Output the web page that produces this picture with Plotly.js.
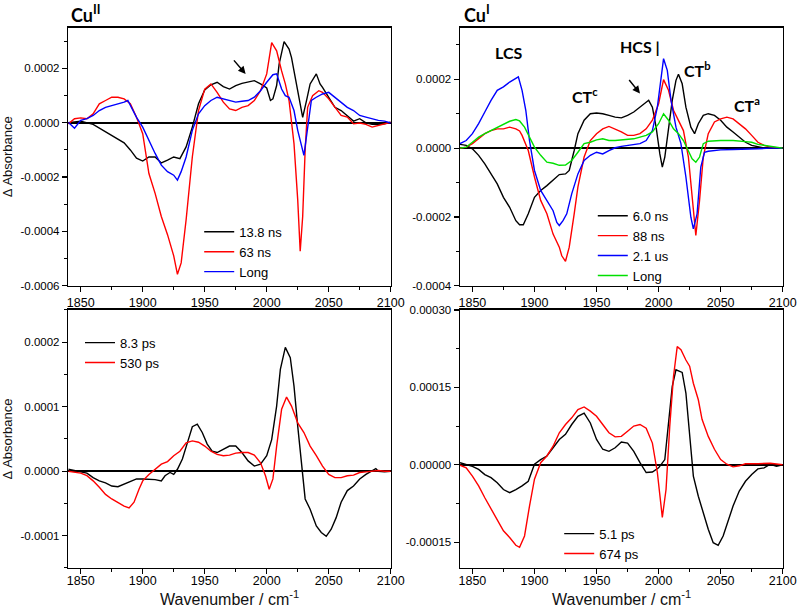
<!DOCTYPE html>
<html>
<head>
<meta charset="utf-8">
<script src="https://cdn.plot.ly/plotly-3.0.1.min.js"></script>
<style>
  html, body { margin: 0; padding: 0; background: #ffffff; }
  #plot { width: 800px; height: 616px; }
</style>
</head>
<body>
<div id="plot"></div>
<script>
// Values are in micro-absorbance units (1e-6); tick labels show the absorbance.

// Cu(II), nanosecond spectra
const tlBlackX = [1840,1850,1860,1865,1870,1875,1880,1885,1890,1895,1900,1905,1910,1915,1920,1925,1930,1935,1940,1945,1950,1955,1960,1965,1970,1975,1980,1985,1990,1995,2000,2003,2005,2008,2010,2014,2018,2020,2024,2027,2029,2032,2035,2040,2043,2045,2050,2055,2060,2065,2070,2075,2080,2085,2090,2095,2100];
const tlBlackY = [0,6,-6,-20,-34,-46,-60,-74,-100,-130,-141,-126,-126,-148,-138,-126,-132,-89,-16,70,121,140,149,133,124,137,145,149,155,143,128,82,88,137,216,299,271,240,143,70,20,80,143,180,143,130,94,57,45,27,6,15,0,-6,-7,-4,2];
const tlRedX = [1840,1845,1850,1855,1860,1865,1870,1875,1880,1885,1890,1895,1900,1905,1910,1915,1920,1925,1928,1931,1935,1940,1945,1950,1955,1960,1965,1970,1975,1980,1985,1990,1995,2000,2004,2008,2012,2015,2018,2020,2022,2025,2027,2029,2031,2033,2037,2042,2045,2050,2055,2060,2065,2070,2075,2080,2085,2090,2095,2100];
const tlRedY = [-4,15,18,15,33,70,82,94,94,88,70,20,-40,-187,-260,-345,-412,-490,-558,-516,-357,-126,45,124,143,112,76,51,45,57,63,82,118,180,295,265,191,143,82,9,-77,-284,-473,-345,-100,57,100,118,112,88,57,27,21,-4,-1,-6,-16,-10,-6,2];
const tlBlueX = [1840,1845,1850,1855,1860,1865,1870,1875,1880,1885,1888,1890,1895,1900,1905,1910,1915,1920,1925,1928,1931,1935,1940,1945,1950,1955,1960,1965,1970,1975,1980,1985,1990,1995,2000,2005,2008,2012,2015,2018,2022,2025,2030,2033,2036,2040,2045,2050,2055,2060,2065,2070,2075,2080,2085,2090,2095,2100];
const tlBlueY = [2,-20,9,15,27,45,57,63,70,76,82,63,20,-16,-65,-113,-156,-180,-193,-211,-180,-126,-28,33,63,82,94,88,82,76,79,82,94,118,149,177,180,124,100,94,45,-28,-120,-16,82,94,106,112,94,76,57,45,27,21,15,9,6,-1];

// Cu(I), nanosecond to microsecond spectra
const trBlackX = [1840,1845,1850,1855,1860,1865,1870,1875,1880,1885,1888,1891,1895,1900,1905,1910,1915,1920,1925,1928,1932,1935,1940,1945,1950,1955,1960,1965,1970,1975,1980,1985,1990,1992,1995,1998,2001,2003,2005,2008,2011,2014,2016,2019,2022,2026,2029,2032,2036,2040,2045,2050,2055,2060,2065,2070,2075,2080,2085,2090,2100];
const trBlackY = [11,8,-2,-21,-46,-75,-104,-143,-172,-211,-223,-223,-191,-143,-123,-109,-94,-77,-75,-65,-7,42,81,100,102,100,95,90,88,95,105,119,134,139,119,61,-17,-55,-26,61,139,197,215,187,119,61,42,71,95,100,95,81,61,47,32,17,8,3,0,1,0];
const trRedX = [1840,1845,1850,1855,1860,1865,1870,1875,1880,1885,1888,1890,1895,1900,1905,1910,1915,1920,1922,1925,1928,1932,1935,1940,1945,1950,1955,1960,1965,1970,1975,1980,1985,1990,1995,2000,2004,2008,2012,2016,2020,2024,2027,2030,2033,2036,2040,2045,2050,2055,2060,2065,2070,2075,2080,2085,2090,2100];
const trRedY = [0,3,13,27,42,51,56,56,61,56,50,37,-7,-84,-152,-191,-250,-288,-313,-329,-288,-191,-113,-26,22,42,56,63,56,47,37,37,42,56,81,129,199,168,110,81,51,-26,-152,-254,-152,-26,42,76,85,90,85,71,56,37,17,8,3,0];
const trBlueX = [1840,1845,1850,1855,1860,1865,1870,1875,1880,1885,1887,1890,1893,1896,1900,1905,1910,1915,1918,1920,1923,1926,1930,1935,1940,1945,1950,1955,1960,1965,1970,1975,1980,1985,1990,1995,1999,2002,2004,2007,2010,2014,2018,2022,2026,2028,2031,2034,2037,2040,2050,2060,2070,2080,2090,2100];
const trBlueY = [13,22,42,71,105,139,168,178,192,202,207,168,110,22,-65,-123,-152,-182,-216,-225,-211,-191,-133,-75,-36,-21,-12,-17,-7,1,5,8,11,13,22,51,119,207,260,226,139,61,13,-84,-201,-235,-191,-55,-12,-9,-5,-4,-4,-2,0,0];
const trGreenX = [1840,1845,1850,1855,1860,1865,1870,1875,1880,1885,1888,1892,1896,1900,1905,1910,1915,1920,1925,1930,1935,1940,1945,1950,1955,1960,1965,1970,1975,1980,1985,1990,1995,2000,2004,2008,2012,2016,2020,2024,2027,2030,2033,2036,2040,2050,2060,2070,2075,2080,2085,2090,2095,2100];
const trGreenY = [0,3,17,32,42,51,61,69,78,83,79,61,32,3,-21,-41,-44,-50,-49,-36,-12,13,17,24,27,22,22,24,24,27,32,37,47,71,100,81,56,42,22,-7,-31,-41,-26,13,20,22,22,19,17,11,8,5,3,0];

// Cu(II), picosecond spectra
const blBlackX = [1840,1845,1850,1855,1860,1865,1870,1875,1880,1885,1890,1895,1900,1905,1910,1915,1918,1922,1925,1928,1932,1936,1940,1944,1948,1952,1956,1960,1965,1970,1975,1980,1985,1990,1995,2000,2004,2008,2011,2015,2019,2022,2025,2028,2031,2035,2040,2044,2048,2052,2056,2060,2065,2070,2075,2080,2085,2088,2090,2095,2100];
const blBlackY = [3,1,0,-3,-10,-15,-18,-23,-24,-20,-15,-12,-12,-12,-13,-15,-7,-2,-5,3,19,44,69,73,60,42,31,29,34,39,39,29,16,8,11,24,49,101,158,192,176,132,70,8,-43,-59,-85,-95,-101,-90,-72,-48,-30,-23,-12,-5,1,4,0,-1,0];
const blRedX = [1840,1845,1850,1855,1860,1865,1870,1875,1880,1885,1889,1893,1897,1900,1905,1910,1915,1920,1925,1930,1935,1940,1945,1950,1955,1960,1965,1970,1975,1980,1985,1990,1995,1999,2002,2005,2008,2012,2016,2020,2025,2030,2035,2040,2045,2050,2055,2060,2065,2070,2075,2080,2085,2090,2095,2100];
const blRedY = [0,-1,-3,-7,-15,-25,-36,-43,-49,-54,-57,-48,-28,-15,-5,3,11,15,24,31,44,47,45,39,31,26,24,25,28,29,29,25,13,-7,-28,-12,39,96,115,101,75,60,39,24,8,-5,-10,-10,-7,-6,-2,-1,0,1,0,0];

// Cu(I), picosecond spectra
const brBlackX = [1840,1845,1850,1855,1860,1865,1870,1875,1880,1885,1890,1895,1900,1905,1910,1915,1920,1925,1930,1935,1940,1945,1950,1955,1960,1965,1970,1975,1980,1985,1990,1995,2000,2005,2008,2011,2014,2019,2022,2025,2028,2032,2036,2040,2044,2048,2052,2056,2060,2065,2070,2075,2080,2085,2090,2095,2100];
const brBlackY = [4,1,-3,-9,-19,-25,-35,-48,-54,-48,-41,-32,1,10,17,33,49,59,78,94,100,81,49,30,26,33,44,42,26,4,-15,-14,-6,10,81,152,184,179,139,62,-22,-61,-93,-125,-151,-156,-138,-109,-80,-51,-32,-19,-8,-6,1,-3,0];
const brRedX = [1840,1845,1850,1855,1860,1865,1870,1875,1880,1885,1888,1892,1896,1900,1905,1910,1915,1920,1925,1930,1935,1940,1945,1950,1955,1960,1965,1970,1975,1980,1985,1990,1995,1999,2003,2006,2009,2012,2015,2018,2022,2025,2028,2032,2035,2040,2045,2050,2055,2060,2065,2070,2080,2090,2100];
const brRedY = [-1,-6,-22,-41,-64,-86,-109,-128,-141,-156,-160,-138,-80,-28,4,17,36,62,78,91,107,112,104,94,78,62,54,55,65,75,78,71,42,-15,-102,-48,75,171,229,223,203,191,158,126,88,55,30,10,1,-4,-2,2,2,3,0];

const legendNames = {
    tl: ['13.8 ns', '63 ns', 'Long'],
    tr: ['6.0 ns', '88 ns', '2.1 us', 'Long'],
    bl: ['8.3 ps', '530 ps'],
    br: ['5.1 ps', '674 ps']
};

const bandLabels = ['LCS', 'CT<sup>c</sup>', 'HCS |', 'CT<sup>b</sup>', 'CT<sup>a</sup>'];
const bandLabelX = [1879, 1940.5, 1985, 2031, 2071];
const bandLabelY = [278, 152, 296, 229, 128];

const BLACK = '#000000';
const RED = '#ff0000';
const BLUE = '#0000ff';
const GREEN = '#00e000';
const AXIS_FONT = 'Liberation Sans, Arial, sans-serif';
const BOLD_FONT = 'Lato, Open Sans, sans-serif';

// multiples of step that fall inside [lo, hi]
function steps(lo, hi, step) {
    const out = [];
    for (let k = Math.ceil(lo / step - 1e-9); k * step <= hi + 1e-9; k++) out.push(k * step);
    return out;
}

function line(x, y, color, name, xa, ya, legend) {
    return {
        x: x, y: y, name: name, xaxis: xa, yaxis: ya, legend: legend,
        type: 'scatter', mode: 'lines',
        line: { color: color, width: 1.4 }
    };
}

const traces = [
    line(tlBlackX, tlBlackY, BLACK, legendNames.tl[0], 'x', 'y', 'legend'),
    line(tlRedX, tlRedY, RED, legendNames.tl[1], 'x', 'y', 'legend'),
    line(tlBlueX, tlBlueY, BLUE, legendNames.tl[2], 'x', 'y', 'legend'),
    line(trBlackX, trBlackY, BLACK, legendNames.tr[0], 'x2', 'y2', 'legend2'),
    line(trRedX, trRedY, RED, legendNames.tr[1], 'x2', 'y2', 'legend2'),
    line(trBlueX, trBlueY, BLUE, legendNames.tr[2], 'x2', 'y2', 'legend2'),
    line(trGreenX, trGreenY, GREEN, legendNames.tr[3], 'x2', 'y2', 'legend2'),
    line(blBlackX, blBlackY, BLACK, legendNames.bl[0], 'x3', 'y3', 'legend3'),
    line(blRedX, blRedY, RED, legendNames.bl[1], 'x3', 'y3', 'legend3'),
    line(brBlackX, brBlackY, BLACK, legendNames.br[0], 'x4', 'y4', 'legend4'),
    line(brRedX, brRedY, RED, legendNames.br[1], 'x4', 'y4', 'legend4')
];

function xAxis(domain, anchor, bottomRow) {
    return {
        domain: domain, anchor: anchor, range: [1840, 2100],
        showline: true, mirror: true, linecolor: BLACK, linewidth: 1.5,
        showgrid: false, zeroline: false,
        ticks: 'outside', ticklen: 5, tickwidth: 1.2, tickcolor: BLACK,
        tickmode: 'linear', tick0: 1850, dtick: 50,
        ticklabelstandoff: bottomRow ? -4 : 0,
        tickfont: { family: AXIS_FONT, size: 12.5, color: BLACK },
        minor: { ticks: 'outside', ticklen: 3, tickwidth: 1, tickcolor: BLACK, dtick: 25, tick0: 1850, showgrid: false }
    };
}

function yAxis(domain, anchor, range, major, minor, digits, withTitle) {
    const vals = steps(range[0], range[1], major);
    const zero = (0).toFixed(digits);
    const ax = {
        domain: domain, anchor: anchor, range: range,
        showline: true, mirror: true, linecolor: BLACK, linewidth: 1.5,
        showgrid: false,
        zeroline: true, zerolinecolor: BLACK, zerolinewidth: 1.5,
        ticks: 'outside', ticklen: 5, tickwidth: 1.2, tickcolor: BLACK,
        tickmode: 'array', tickvals: vals,
        ticktext: vals.map(v => v === 0 ? zero : (v * 1e-6).toFixed(digits)),
        tickfont: { family: AXIS_FONT, size: 11.5, color: BLACK },
        minor: { ticks: 'outside', ticklen: 3, tickwidth: 1, tickcolor: BLACK, tickmode: 'array', tickvals: steps(range[0], range[1], minor), showgrid: false }
    };
    if (withTitle) {
        ax.title = { text: '\u0394 Absorbance', font: { family: AXIS_FONT, size: 13, color: '#111111' }, standoff: 6 };
    }
    return ax;
}

function legendAt(x, y) {
    return {
        x: x, y: y, xanchor: 'left', yanchor: 'top',
        bgcolor: 'rgba(0,0,0,0)', borderwidth: 0,
        font: { family: AXIS_FONT, size: 13, color: BLACK },
        tracegroupgap: 0
    };
}

const topRow = [0.5362, 0.955];
const bottomRow = [0.078, 0.4968];
const leftCol = [0.0854, 0.4884];
const rightCol = [0.575, 0.9784];

const xTitle = 'Wavenumber / cm<sup>-1</sup>';

const annotations = [
    {
        xref: 'paper', yref: 'paper', x: 0.086, y: 1.0, xanchor: 'left', yanchor: 'top',
        text: '<b>Cu<sup>II</sup></b>', showarrow: false,
        font: { family: BOLD_FONT, size: 18, color: BLACK }
    },
    {
        xref: 'paper', yref: 'paper', x: 0.577, y: 1.0, xanchor: 'left', yanchor: 'top',
        text: '<b>Cu<sup>I</sup></b>', showarrow: false,
        font: { family: BOLD_FONT, size: 18, color: BLACK }
    },
    {
        xref: 'x3 domain', yref: 'paper', x: 0.5, y: 0.030, yanchor: 'middle',
        text: xTitle, showarrow: false,
        font: { family: AXIS_FONT, size: 16, color: '#111111' }
    },
    {
        xref: 'x4 domain', yref: 'paper', x: 0.5, y: 0.030, yanchor: 'middle',
        text: xTitle, showarrow: false,
        font: { family: AXIS_FONT, size: 16, color: '#111111' }
    },
    {
        xref: 'x', yref: 'y', x: 1983, y: 180, ax: -13, ay: -15,
        text: '', showarrow: true, arrowhead: 2, arrowsize: 1, arrowwidth: 1.5, arrowcolor: BLACK
    },
    {
        xref: 'x2', yref: 'y2', x: 1985, y: 159, ax: -12, ay: -15,
        text: '', showarrow: true, arrowhead: 2, arrowsize: 1, arrowwidth: 1.5, arrowcolor: BLACK
    }
].concat(bandLabels.map((t, i) => ({
    xref: 'x2', yref: 'y2', x: bandLabelX[i], y: bandLabelY[i],
    text: '<b>' + t + '</b>', showarrow: false,
    font: { family: BOLD_FONT, size: 16, color: BLACK }
})));

const layout = {
    width: 800, height: 616,
    margin: { l: 0, r: 0, t: 0, b: 0 },
    paper_bgcolor: '#ffffff', plot_bgcolor: '#ffffff',
    showlegend: true,
    xaxis: xAxis(leftCol, 'y', false),
    yaxis: yAxis(topRow, 'x', [-600, 350], 200, 100, 4, true),
    xaxis2: xAxis(rightCol, 'y2', false),
    yaxis2: yAxis(topRow, 'x2', [-400, 350], 200, 100, 4, false),
    xaxis3: xAxis(leftCol, 'y3', true),
    yaxis3: yAxis(bottomRow, 'x3', [-150, 250], 100, 50, 4, true),
    xaxis4: xAxis(rightCol, 'y4', true),
    yaxis4: yAxis(bottomRow, 'x4', [-200, 300], 150, 75, 5, false),
    legend: legendAt(0.249, 0.648),
    legend2: legendAt(0.741, 0.674),
    legend3: legendAt(0.1, 0.468),
    legend4: legendAt(0.699, 0.158),
    annotations: annotations
};

Plotly.newPlot('plot', traces, layout, { displayModeBar: false, staticPlot: true });
</script>
</body>
</html>
